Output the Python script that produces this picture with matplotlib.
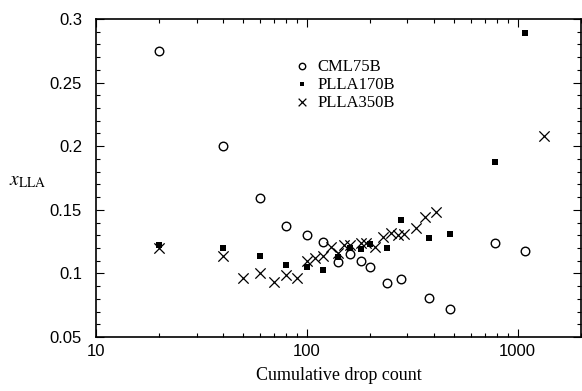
import matplotlib
matplotlib.use("Agg")
import matplotlib.pyplot as plt
from matplotlib.ticker import FixedLocator, MultipleLocator, LogLocator, NullFormatter

plt.rcParams['mathtext.fontset'] = 'stix'

cml_x = [20, 40, 60, 80, 100, 120, 140, 160, 180, 200, 240, 280, 380, 480, 780, 1080]
cml_y = [0.275, 0.200, 0.159, 0.137, 0.130, 0.125, 0.109, 0.115, 0.110, 0.105, 0.0925, 0.0956, 0.0807, 0.072, 0.124, 0.1176]

p170_x = [20, 40, 60, 80, 100, 120, 140, 160, 180, 200, 240, 280, 380, 480, 780, 1080]
p170_y = [0.1223, 0.120, 0.1137, 0.1066, 0.105, 0.1027, 0.113, 0.120, 0.119, 0.123, 0.120, 0.142, 0.128, 0.131, 0.1876, 0.289]

p350_x = [20, 40, 50, 60, 70, 80, 90, 100, 110, 120, 130, 140, 150, 160, 180, 190, 210, 230, 250, 270, 290, 330, 365, 410, 1340]
p350_y = [0.120, 0.1137, 0.0964, 0.100, 0.0932, 0.0990, 0.0962, 0.110, 0.112, 0.114, 0.121, 0.116, 0.122, 0.122, 0.124, 0.124, 0.121, 0.129, 0.132, 0.130, 0.131, 0.136, 0.144, 0.148, 0.208]

x_ticks = [10, 100, 1000]
x_tick_labels = ["10", "100", "1000"]
y_ticks = [0.05, 0.1, 0.15, 0.2, 0.25, 0.3]
y_tick_labels = ["0.05", "0.1", "0.15", "0.2", "0.25", "0.3"]

fig = plt.figure(figsize=(5.82, 3.91), dpi=100)
ax = fig.add_axes([96/582, 1-337/391, (581-96)/582, (337-19)/391])

ax.scatter(cml_x, cml_y, s=38, marker='o', facecolors='white', edgecolors='black', linewidths=1.0, label='CML75B', zorder=3)
ax.scatter(p170_x, p170_y, s=22, marker='s', color='black', linewidths=0, label='PLLA170B', zorder=3)
ax.scatter(p350_x, p350_y, s=55, marker='x', color='black', linewidths=0.9, label='PLLA350B', zorder=3)

ax.set_xscale('log')
ax.set_xlim(10, 2000)
ax.set_ylim(0.05, 0.3)

ax.xaxis.set_major_locator(FixedLocator(x_ticks))
ax.set_xticklabels(x_tick_labels, fontsize=12, family='Liberation Sans')
ax.xaxis.set_minor_locator(LogLocator(base=10, subs=range(2, 10)))
ax.xaxis.set_minor_formatter(NullFormatter())
ax.set_yticks(y_ticks)
ax.set_yticklabels(y_tick_labels, fontsize=12, family='Liberation Sans')
ax.yaxis.set_minor_locator(MultipleLocator(0.01))

ax.tick_params(which='both', direction='in', top=True, right=True, width=0.8)
ax.tick_params(which='major', length=6)
ax.tick_params(which='minor', length=3)
ax.tick_params(axis='x', which='major', pad=5)
ax.tick_params(axis='y', which='major', pad=10)
for s in ax.spines.values():
    s.set_linewidth(1.2)

ax.set_xlabel("Cumulative drop count", fontsize=13, family='Liberation Serif', labelpad=6)
fig.text(28/582, 1-181/391, r'$x_{\mathrm{LLA}}$', fontsize=14, ha='center', va='center')

leg = ax.legend(loc='upper left', bbox_to_anchor=(0.405, 0.875), frameon=False,
                prop={'family': 'Liberation Serif', 'size': 12}, handletextpad=0.3,
                handlelength=1.2, labelspacing=0.12, borderaxespad=0, borderpad=0,
                scatterpoints=1, markerscale=0.75)

fig.savefig("out.png", dpi=100)
